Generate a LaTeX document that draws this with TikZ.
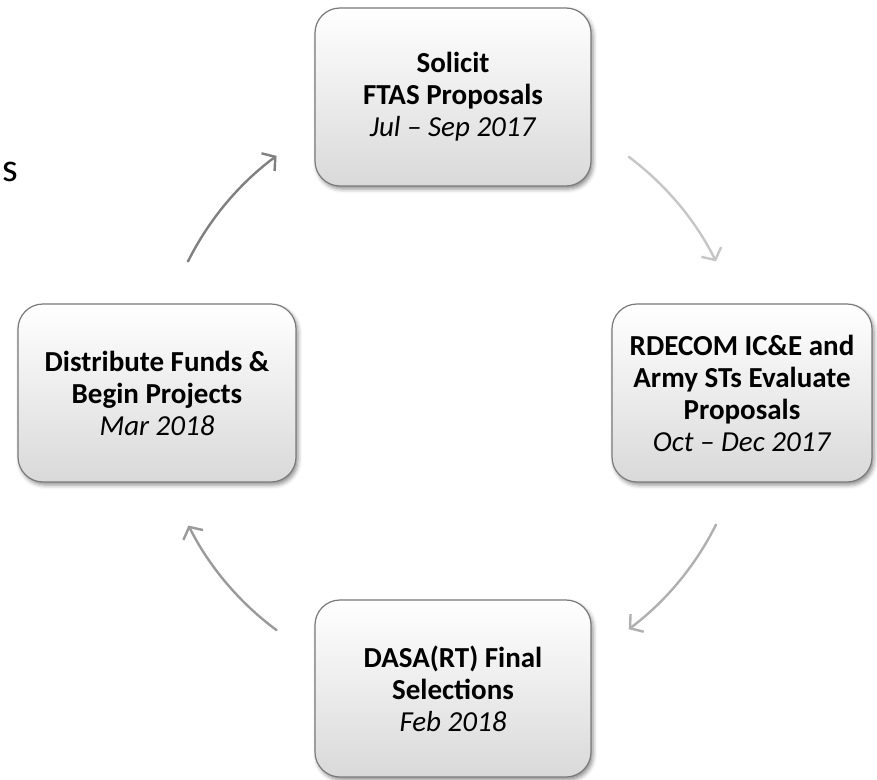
\documentclass[tikz,border=0pt]{standalone}
\usepackage{fontspec}
\setmainfont{Carlito}
\usetikzlibrary{arrows.meta,shadows.blur}
\definecolor{boxline}{HTML}{7A7A7A}
\definecolor{boxbot}{HTML}{D9D9D9}
\definecolor{arA}{HTML}{808080}
\definecolor{arB}{HTML}{C6C6C6}
\definecolor{arC}{HTML}{B0B0B0}
\definecolor{arD}{HTML}{9A9A9A}
\tikzset{
  stagebox/.style={rounded corners=25pt, draw=boxline, line width=1.2pt,
    top color=white, bottom color=boxbot, align=center, inner sep=0pt,
    font=\fontsize{29}{32}\selectfont,
    blur shadow={shadow xshift=2pt, shadow yshift=-3pt, shadow blur radius=4pt, shadow opacity=45}},
  cyclearrow/.style={line width=2.4pt, line cap=round,
    -{Straight Barb[length=9pt,width=22pt,line width=2.4pt]}}
}
\begin{document}
\begin{tikzpicture}[x=1pt,y=1pt]
\useasboundingbox (0,0) rectangle (877,-779);
\coordinate (C) at (452,-393);
\node[stagebox, minimum width=276pt, minimum height=178pt] (top) at (453,-97)
  {\textbf{Solicit}\\\textbf{FTAS Proposals}\\\textit{Jul – Sep 2017}};
\node[stagebox, minimum width=260pt, minimum height=178pt] (right) at (742,-393)
  {\textbf{RDECOM IC\&E and}\\\textbf{Army STs Evaluate}\\\textbf{Proposals}\\\textit{Oct – Dec 2017}};
\node[stagebox, minimum width=276pt, minimum height=177pt] (bottom) at (453,-688.5)
  {\textbf{DASA(RT) Final}\\\textbf{Selections}\\\textit{Feb 2018}};
\node[stagebox, minimum width=278pt, minimum height=178pt] (left) at (157,-393)
  {\textbf{Distribute Funds \&}\\\textbf{Begin Projects}\\\textit{Mar 2018}};
\node[font=\fontsize{40}{44}\selectfont, inner sep=0pt] (s) at (10,-172) {s};
\path (C) ++(153.5:295) coordinate (p1);
\path (C) ++(53.2:295) coordinate (p2);
\path (C) ++(-26.5:295) coordinate (p3);
\path (C) ++(-126.5:295) coordinate (p4);
\draw[cyclearrow, draw=arA] (p1) arc[start angle=153.5, end angle=126.5, radius=295];
\draw[cyclearrow, draw=arB] (p2) arc[start angle=53.2, end angle=26.5, radius=295];
\draw[cyclearrow, draw=arC] (p3) arc[start angle=-26.5, end angle=-53.2, radius=295];
\draw[cyclearrow, draw=arD] (p4) arc[start angle=-126.5, end angle=-153.3, radius=295];
\end{tikzpicture}
\end{document}
